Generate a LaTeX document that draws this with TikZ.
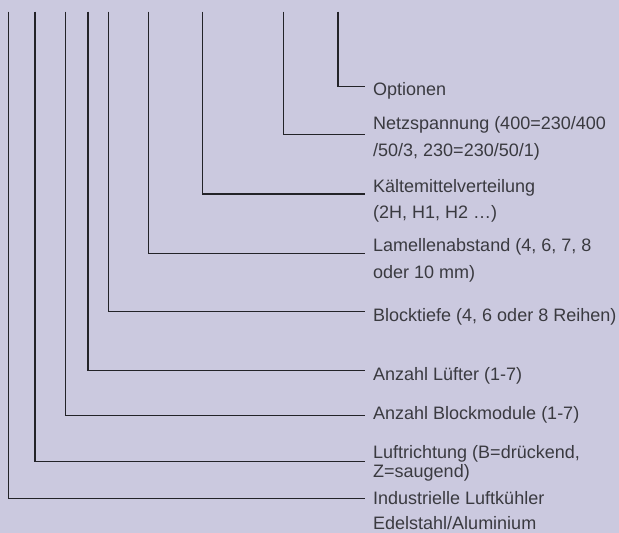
\documentclass[tikz,border=0pt]{standalone}
\usepackage{fontspec}
\setmainfont{Liberation Sans}
\definecolor{bg}{RGB}{203,201,223}
\definecolor{ink}{RGB}{35,35,40}
\definecolor{txt}{RGB}{58,58,64}
\begin{document}
\begin{tikzpicture}[x=1pt,y=-1pt,
  conn/.style={draw=ink,line width=1.2pt},
  lbl/.style={anchor=base west,inner sep=0pt,text=txt,font=\fontsize{18}{18}\selectfont}]
\fill[bg] (0,0) rectangle (619,533);
\useasboundingbox (0,0) rectangle (619,533);
% top ends
\coordinate (t1) at (338,11.7);
\coordinate (t2) at (283.7,11.7);
\coordinate (t3) at (202.7,11.7);
\coordinate (t4) at (148.3,11.7);
\coordinate (t5) at (108.7,11.7);
\coordinate (t6) at (88,11.7);
\coordinate (t7) at (65.3,11.7);
\coordinate (t8) at (35,11.7);
\coordinate (t9) at (8.3,11.7);
% right ends
\coordinate (e1) at (365,86.5);
\coordinate (e2) at (365,134.5);
\coordinate (e3) at (365,194);
\coordinate (e4) at (365,253.5);
\coordinate (e5) at (365,311.7);
\coordinate (e6) at (365,370.5);
\coordinate (e7) at (365,415.5);
\coordinate (e8) at (365,461.7);
\coordinate (e9) at (365,498.3);
% labels
\node[lbl] (l1) at (373,95.7) {Optionen};
\node[lbl] (l2) at (373,129.5) {Netzspannung (400=230/400};
\node[lbl] (l2b) at (373,156) {/50/3, 230=230/50/1)};
\node[lbl] (l3) at (373,192) {Kältemittelverteilung};
\node[lbl] (l3b) at (373,218) {(2H, H1, H2 …)};
\node[lbl] (l4) at (373,251.7) {Lamellenabstand (4, 6, 7, 8};
\node[lbl] (l4b) at (373,278.3) {oder 10 mm)};
\node[lbl] (l5) at (373,321.7) {Blocktiefe (4, 6 oder 8 Reihen)};
\node[lbl] (l6) at (373,380) {Anzahl Lüfter (1-7)};
\node[lbl] (l7) at (373,419.5) {Anzahl Blockmodule (1-7)};
\node[lbl] (l8) at (373,458.3) {Luftrichtung (B=drückend,};
\node[lbl] (l8b) at (373,477.7) {Z=saugend)};
\node[lbl] (l9) at (373,504.5) {Industrielle Luftkühler};
\node[lbl] (l9b) at (373,529.5) {Edelstahl/Aluminium};
% connectors
\draw[conn] (t1) |- (e1);
\draw[conn] (t2) |- (e2);
\draw[conn] (t3) |- (e3);
\draw[conn] (t4) |- (e4);
\draw[conn] (t5) |- (e5);
\draw[conn] (t6) |- (e6);
\draw[conn] (t7) |- (e7);
\draw[conn] (t8) |- (e8);
\draw[conn] (t9) |- (e9);
\end{tikzpicture}
\end{document}
